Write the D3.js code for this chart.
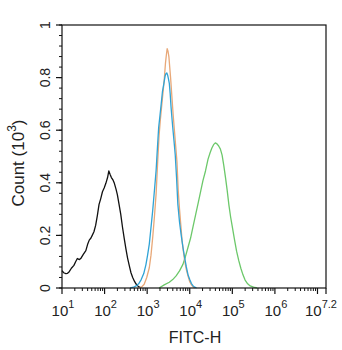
<!DOCTYPE html>
<html>
<head>
<meta charset="utf-8">
<script src="https://cdn.jsdelivr.net/npm/d3@7"></script>
<style>
  html, body { margin: 0; padding: 0; background: #fff; }
  svg { display: block; }
  text { font-family: "Liberation Sans", Arial, sans-serif; fill: #222; }
</style>
</head>
<body>
<div id="chart"></div>
<script>
// ---- data (x as log10 exponent of FITC-H, y as count in 10^3) ----
const blackExp = [1.0, 1.04, 1.09, 1.13, 1.17, 1.22, 1.28, 1.32, 1.36, 1.41, 1.44, 1.5, 1.56, 1.6, 1.64, 1.68, 1.71, 1.75, 1.79, 1.83, 1.87, 1.91, 1.95, 1.99, 2.03, 2.07, 2.1, 2.13, 2.16, 2.2, 2.23, 2.27, 2.3, 2.34, 2.38, 2.42, 2.46, 2.5, 2.54, 2.58, 2.62, 2.66, 2.7, 2.74, 2.78, 2.82, 2.86];
const blackVal = [0.066, 0.058, 0.055, 0.056, 0.062, 0.075, 0.086, 0.1, 0.112, 0.108, 0.112, 0.128, 0.142, 0.165, 0.182, 0.19, 0.2, 0.214, 0.238, 0.275, 0.318, 0.34, 0.366, 0.38, 0.398, 0.42, 0.445, 0.432, 0.42, 0.41, 0.398, 0.375, 0.355, 0.318, 0.28, 0.232, 0.19, 0.15, 0.114, 0.085, 0.058, 0.04, 0.026, 0.015, 0.008, 0.003, 0.0];

const orangeExp = [2.8, 2.87, 2.93, 2.99, 3.05, 3.09, 3.13, 3.17, 3.21, 3.25, 3.28, 3.31, 3.34, 3.37, 3.4, 3.43, 3.45, 3.47, 3.49, 3.51, 3.53, 3.55, 3.58, 3.61, 3.64, 3.67, 3.7, 3.73, 3.76, 3.79, 3.82, 3.85, 3.88, 3.92, 3.96, 4.0, 4.04, 4.08, 4.12];
const orangeVal = [0.0, 0.004, 0.014, 0.04, 0.077, 0.125, 0.192, 0.27, 0.358, 0.49, 0.58, 0.64, 0.69, 0.74, 0.79, 0.855, 0.885, 0.91, 0.9, 0.88, 0.84, 0.8, 0.73, 0.66, 0.6, 0.54, 0.48, 0.37, 0.3, 0.24, 0.18, 0.14, 0.105, 0.07, 0.045, 0.024, 0.012, 0.004, 0.0];

const blueExp = [2.6, 2.68, 2.74, 2.8, 2.86, 2.92, 2.97, 3.01, 3.05, 3.09, 3.13, 3.17, 3.21, 3.24, 3.27, 3.3, 3.33, 3.36, 3.39, 3.42, 3.44, 3.46, 3.48, 3.5, 3.52, 3.54, 3.56, 3.58, 3.6, 3.63, 3.66, 3.69, 3.72, 3.76, 3.8, 3.84, 3.88, 3.92, 3.96, 4.0, 4.04, 4.08, 4.12, 4.16];
const blueVal = [0.0, 0.003, 0.008, 0.016, 0.032, 0.055, 0.088, 0.125, 0.167, 0.23, 0.294, 0.37, 0.447, 0.53, 0.61, 0.655, 0.7, 0.748, 0.775, 0.805, 0.815, 0.818, 0.81, 0.795, 0.778, 0.74, 0.69, 0.65, 0.612, 0.56, 0.505, 0.42, 0.32, 0.25, 0.2, 0.155, 0.116, 0.08, 0.05, 0.032, 0.017, 0.008, 0.003, 0.0];

const greenExp = [3.28, 3.4, 3.52, 3.6, 3.68, 3.76, 3.84, 3.9, 3.96, 4.02, 4.08, 4.14, 4.2, 4.26, 4.31, 4.37, 4.43, 4.48, 4.52, 4.56, 4.6, 4.64, 4.68, 4.72, 4.76, 4.8, 4.84, 4.88, 4.92, 4.96, 5.0, 5.05, 5.1, 5.15, 5.2, 5.25, 5.3, 5.36, 5.42, 5.5, 5.58];
const greenVal = [0.0, 0.012, 0.022, 0.032, 0.046, 0.065, 0.09, 0.12, 0.155, 0.19, 0.235, 0.28, 0.325, 0.37, 0.408, 0.445, 0.49, 0.515, 0.532, 0.545, 0.552, 0.548, 0.54, 0.528, 0.505, 0.465, 0.42, 0.37, 0.315, 0.27, 0.232, 0.185, 0.14, 0.105, 0.075, 0.05, 0.03, 0.016, 0.008, 0.003, 0.0];

const seriesColors = ["#111111", "#e8a878", "#2fa3d6", "#6cc86a"];
const xTickExps = [1, 2, 3, 4, 5, 6, 7, 7.2];
const xTickLabels = ["1", "2", "3", "4", "5", "6", "", "7.2"];
const yTicks = [0, 0.2, 0.4, 0.6, 0.8, 1];
const yTickLabels = ["0", "0.2", "0.4", "0.6", "0.8", "1"];
const xLabel = "FITC-H";
const yLabelMain = "Count (10";
const yLabelSup = "3";

// ---- layout ----
const W = 342, H = 350;
const mLeft = 62, mRight = 326, mTop = 25, mBottom = 288;

const svg = d3.select("#chart").append("svg").attr("width", W).attr("height", H);

const x = d3.scaleLog().domain([10, Math.pow(10, 7.2)]).range([mLeft, mRight]);
const y = d3.scaleLinear().domain([0, 1]).range([mBottom, mTop]);

// curves
const series = [
  { e: blackExp, v: blackVal, c: seriesColors[0] },
  { e: greenExp, v: greenVal, c: seriesColors[3] },
  { e: orangeExp, v: orangeVal, c: seriesColors[1] },
  { e: blueExp, v: blueVal, c: seriesColors[2] }
];
const line = d3.line()
  .x(d => x(Math.pow(10, d[0])))
  .y(d => y(d[1]))
  .curve(d3.curveLinear);
series.forEach(s => {
  const pts = s.e.map((e, i) => [e, s.v[i]]);
  svg.append("path").datum(pts)
    .attr("d", line)
    .attr("fill", "none")
    .attr("stroke", s.c)
    .attr("stroke-width", 1.3)
    .attr("stroke-linejoin", "round");
});

// frame
svg.append("rect")
  .attr("x", mLeft).attr("y", mTop)
  .attr("width", mRight - mLeft).attr("height", mBottom - mTop)
  .attr("fill", "none").attr("stroke", "#111").attr("stroke-width", 1.2);

// x axis ticks
const minorX = [];
for (let d = 1; d < 8; d++) {
  for (let m = 2; m <= 9; m++) {
    const v = m * Math.pow(10, d);
    if (v < Math.pow(10, 7.2)) minorX.push(v);
  }
}
const gx = svg.append("g");
gx.selectAll("line.minor").data(minorX).enter().append("line")
  .attr("class", "minor")
  .attr("x1", d => x(d)).attr("x2", d => x(d))
  .attr("y1", mBottom).attr("y2", mBottom + 3)
  .attr("stroke", "#111").attr("stroke-width", 1);
gx.selectAll("line.major").data(xTickExps).enter().append("line")
  .attr("class", "major")
  .attr("x1", d => x(Math.pow(10, d))).attr("x2", d => x(Math.pow(10, d)))
  .attr("y1", mBottom).attr("y2", mBottom + 6)
  .attr("stroke", "#111").attr("stroke-width", 1.2);
const labelled = xTickExps.map((e, i) => ({ e, lab: xTickLabels[i] })).filter(d => d.lab !== "");
const xt = gx.selectAll("text").data(labelled).enter().append("text")
  .attr("x", d => d.e === 7.2 ? x(Math.pow(10, d.e)) - 5 : x(Math.pow(10, d.e)) + 1)
  .attr("y", 316)
  .attr("text-anchor", "middle")
  .style("font-size", "15px");
xt.append("tspan").text("10");
xt.append("tspan").attr("dy", -8).style("font-size", "11px").text(d => d.lab);

// y axis ticks
const minorY = d3.range(0, 1.0001, 0.04);
const gy = svg.append("g");
gy.selectAll("line.minor").data(minorY).enter().append("line")
  .attr("class", "minor")
  .attr("x1", mLeft - 3).attr("x2", mLeft)
  .attr("y1", d => y(d)).attr("y2", d => y(d))
  .attr("stroke", "#111").attr("stroke-width", 1);
gy.selectAll("line.major").data(yTicks).enter().append("line")
  .attr("class", "major")
  .attr("x1", mLeft - 6).attr("x2", mLeft)
  .attr("y1", d => y(d)).attr("y2", d => y(d))
  .attr("stroke", "#111").attr("stroke-width", 1.2);
gy.selectAll("text").data(yTicks).enter().append("text")
  .attr("transform", d => `translate(50,${y(d)}) rotate(-90)`)
  .attr("text-anchor", "middle")
  .style("font-size", "14px")
  .text((d, i) => yTickLabels[i]);

// axis titles
svg.append("text")
  .attr("x", 195).attr("y", 343)
  .attr("text-anchor", "middle")
  .style("font-size", "16px")
  .text(xLabel);

const yl = svg.append("text")
  .attr("transform", `translate(24,163) rotate(-90)`)
  .attr("text-anchor", "middle")
  .style("font-size", "17px");
yl.append("tspan").text(yLabelMain);
yl.append("tspan").attr("dy", -8).style("font-size", "12px").text(yLabelSup);
yl.append("tspan").attr("dy", 8).text(")");
</script>
</body>
</html>
